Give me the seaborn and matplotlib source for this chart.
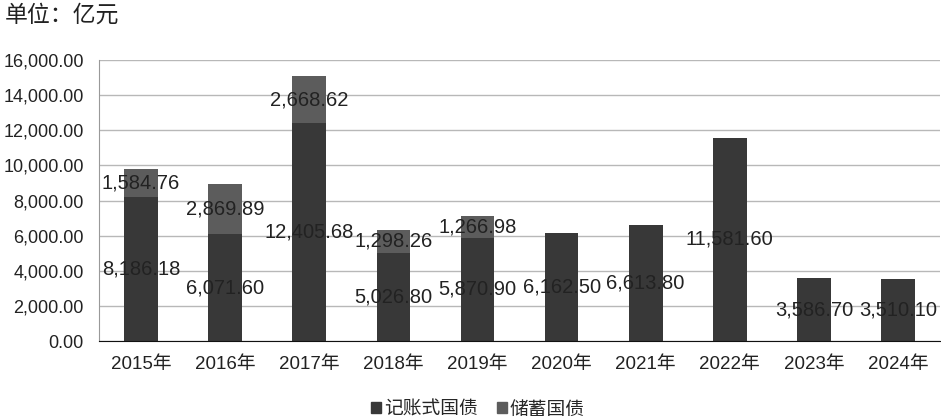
import matplotlib
matplotlib.use("Agg")
import matplotlib.pyplot as plt
import seaborn as sns
import pandas as pd
from matplotlib.patches import Patch
from matplotlib.ticker import FuncFormatter

years = ['2015年', '2016年', '2017年', '2018年', '2019年',
         '2020年', '2021年', '2022年', '2023年', '2024年']
book_entry = [8186.18, 6071.60, 12405.68, 5026.80, 5870.90,
              6162.50, 6613.80, 11581.60, 3586.70, 3510.10]
savings = [1584.76, 2869.89, 2668.62, 1298.26, 1266.98, 0, 0, 0, 0, 0]

dark = '#383838'
mid = '#5c5c5c'

df = pd.DataFrame({'year': years, 'book': book_entry, 'savings': savings})
df['total'] = df['book'] + df['savings']

sns.set_style("white")
plt.rcParams['font.family'] = ['Liberation Sans', 'Noto Sans CJK SC', 'DejaVu Sans']

fig = plt.figure(figsize=(9.41, 4.2), dpi=100)
ax = fig.add_axes([0.1052, 0.188, 0.8938, 0.669])

# total first (savings colour), then the book-entry part over it
sns.barplot(data=df, x='year', y='total', color=mid, saturation=1, width=0.4,
            linewidth=0, edgecolor='none', ax=ax)
sns.barplot(data=df, x='year', y='book', color=dark, saturation=1, width=0.4,
            linewidth=0, edgecolor='none', ax=ax)

ax.set_ylim(0, 16000)
ax.set_yticks(range(0, 16001, 2000))
ax.yaxis.set_major_formatter(FuncFormatter(lambda v, p: f'{v:,.2f}'))
ax.grid(axis='y', color='#b8b8b8', linewidth=1)
ax.set_axisbelow(True)
ax.set_xlabel('')
ax.set_ylabel('')
ax.tick_params(axis='y', labelsize=13, colors='#222222', length=0, pad=11)
ax.tick_params(axis='x', labelsize=13.5, colors='#222222', length=0, pad=11)
for s in ['top', 'right']:
    ax.spines[s].set_visible(False)
ax.spines['left'].set_color('#999999')
ax.spines['bottom'].set_color('#111111')

# data labels in the middle of each segment
for i, (b, s) in enumerate(zip(book_entry, savings)):
    ax.text(i, b / 2, f'{b:,.2f}', ha='center', va='center', fontsize=14.5, color='#222222')
    if s > 0:
        ax.text(i, b + s / 2, f'{s:,.2f}', ha='center', va='center', fontsize=14.5, color='#222222')

fig.text(0.005, 0.964, '单位：亿元', fontsize=16.5, color='#222222', va='center', ha='left')

handles = [Patch(color=dark, label='记账式国债'), Patch(color=mid, label='储蓄国债')]
fig.legend(handles=handles, loc='center', bbox_to_anchor=(0.508, 0.024), ncol=2,
           frameon=False, fontsize=13.5, handlelength=0.55, handleheight=0.55,
           handletextpad=0.15, columnspacing=1.0, borderpad=0)

plt.savefig('out.png', dpi=100)
